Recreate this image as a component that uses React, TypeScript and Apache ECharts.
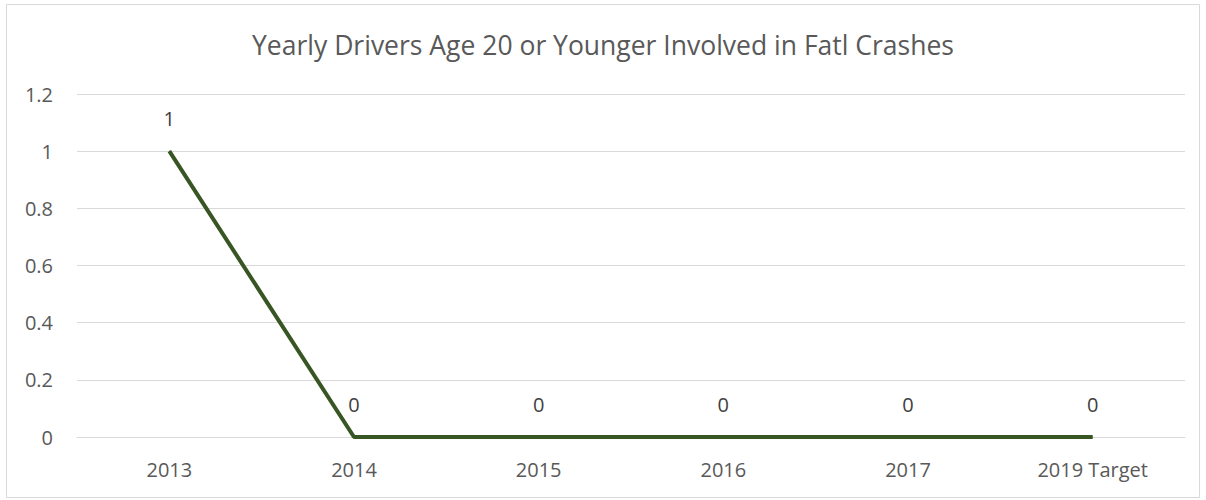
import React, { useEffect, useRef } from "react";
import * as echarts from "echarts";

const categories = ["2013", "2014", "2015", "2016", "2017", "2019 Target"];
const values = [1, 0, 0, 0, 0, 0];
const yTicks = { min: 0, max: 1.2, interval: 0.2 };
const titleText = "Yearly Drivers Age 20 or Younger Involved in Fatl Crashes";

export default function App() {
  const ref = useRef<HTMLDivElement>(null);
  useEffect(() => {
    if (!ref.current) return;
    const chart = echarts.init(ref.current, null, { renderer: "svg" });
    const font = "'Open Sans', 'Noto Sans', sans-serif";
    chart.setOption({
      animation: false,
      backgroundColor: "#ffffff",
      title: {
        text: titleText,
        left: "center",
        top: 26,
        textStyle: { color: "#595959", fontSize: 26.5, fontWeight: "normal", fontFamily: font },
      },
      graphic: [
        {
          type: "rect",
          shape: { x: 6.5, y: 4.5, width: 1193, height: 493 },
          style: { fill: "none", stroke: "#d9d9d9", lineWidth: 1 },
          silent: true,
        },
      ],
      grid: { left: 77, right: 21, top: 94, bottom: 63 },
      xAxis: {
        type: "category",
        data: categories,
        boundaryGap: true,
        axisLine: { show: true, lineStyle: { color: "#d9d9d9", width: 1 } },
        axisTick: { show: false },
        axisLabel: { color: "#595959", fontSize: 20, fontFamily: font, margin: 22 },
      },
      yAxis: {
        type: "value",
        min: yTicks.min,
        max: yTicks.max,
        interval: yTicks.interval,
        axisLine: { show: false },
        axisTick: { show: false },
        splitLine: { lineStyle: { color: "#d9d9d9", width: 1 } },
        axisLabel: {
          color: "#595959",
          fontSize: 20,
          fontFamily: font,
          margin: 24,
          formatter: (v: number) => String(Math.round(v * 10) / 10),
        },
      },
      series: [
        {
          type: "line",
          data: values,
          symbol: "circle",
          symbolSize: 1,
          showSymbol: true,
          itemStyle: { color: "#375623" },
          lineStyle: { color: "#375623", width: 4 },
          label: {
            show: true,
            position: "top",
            distance: 22,
            color: "#404040",
            fontSize: 20,
            fontFamily: font,
          },
        },
      ],
    });
    return () => chart.dispose();
  }, []);
  return (
    <div
      ref={ref}
      style={{ position: "absolute", left: 0, top: 0, width: 1206, height: 500 }}
    />
  );
}
